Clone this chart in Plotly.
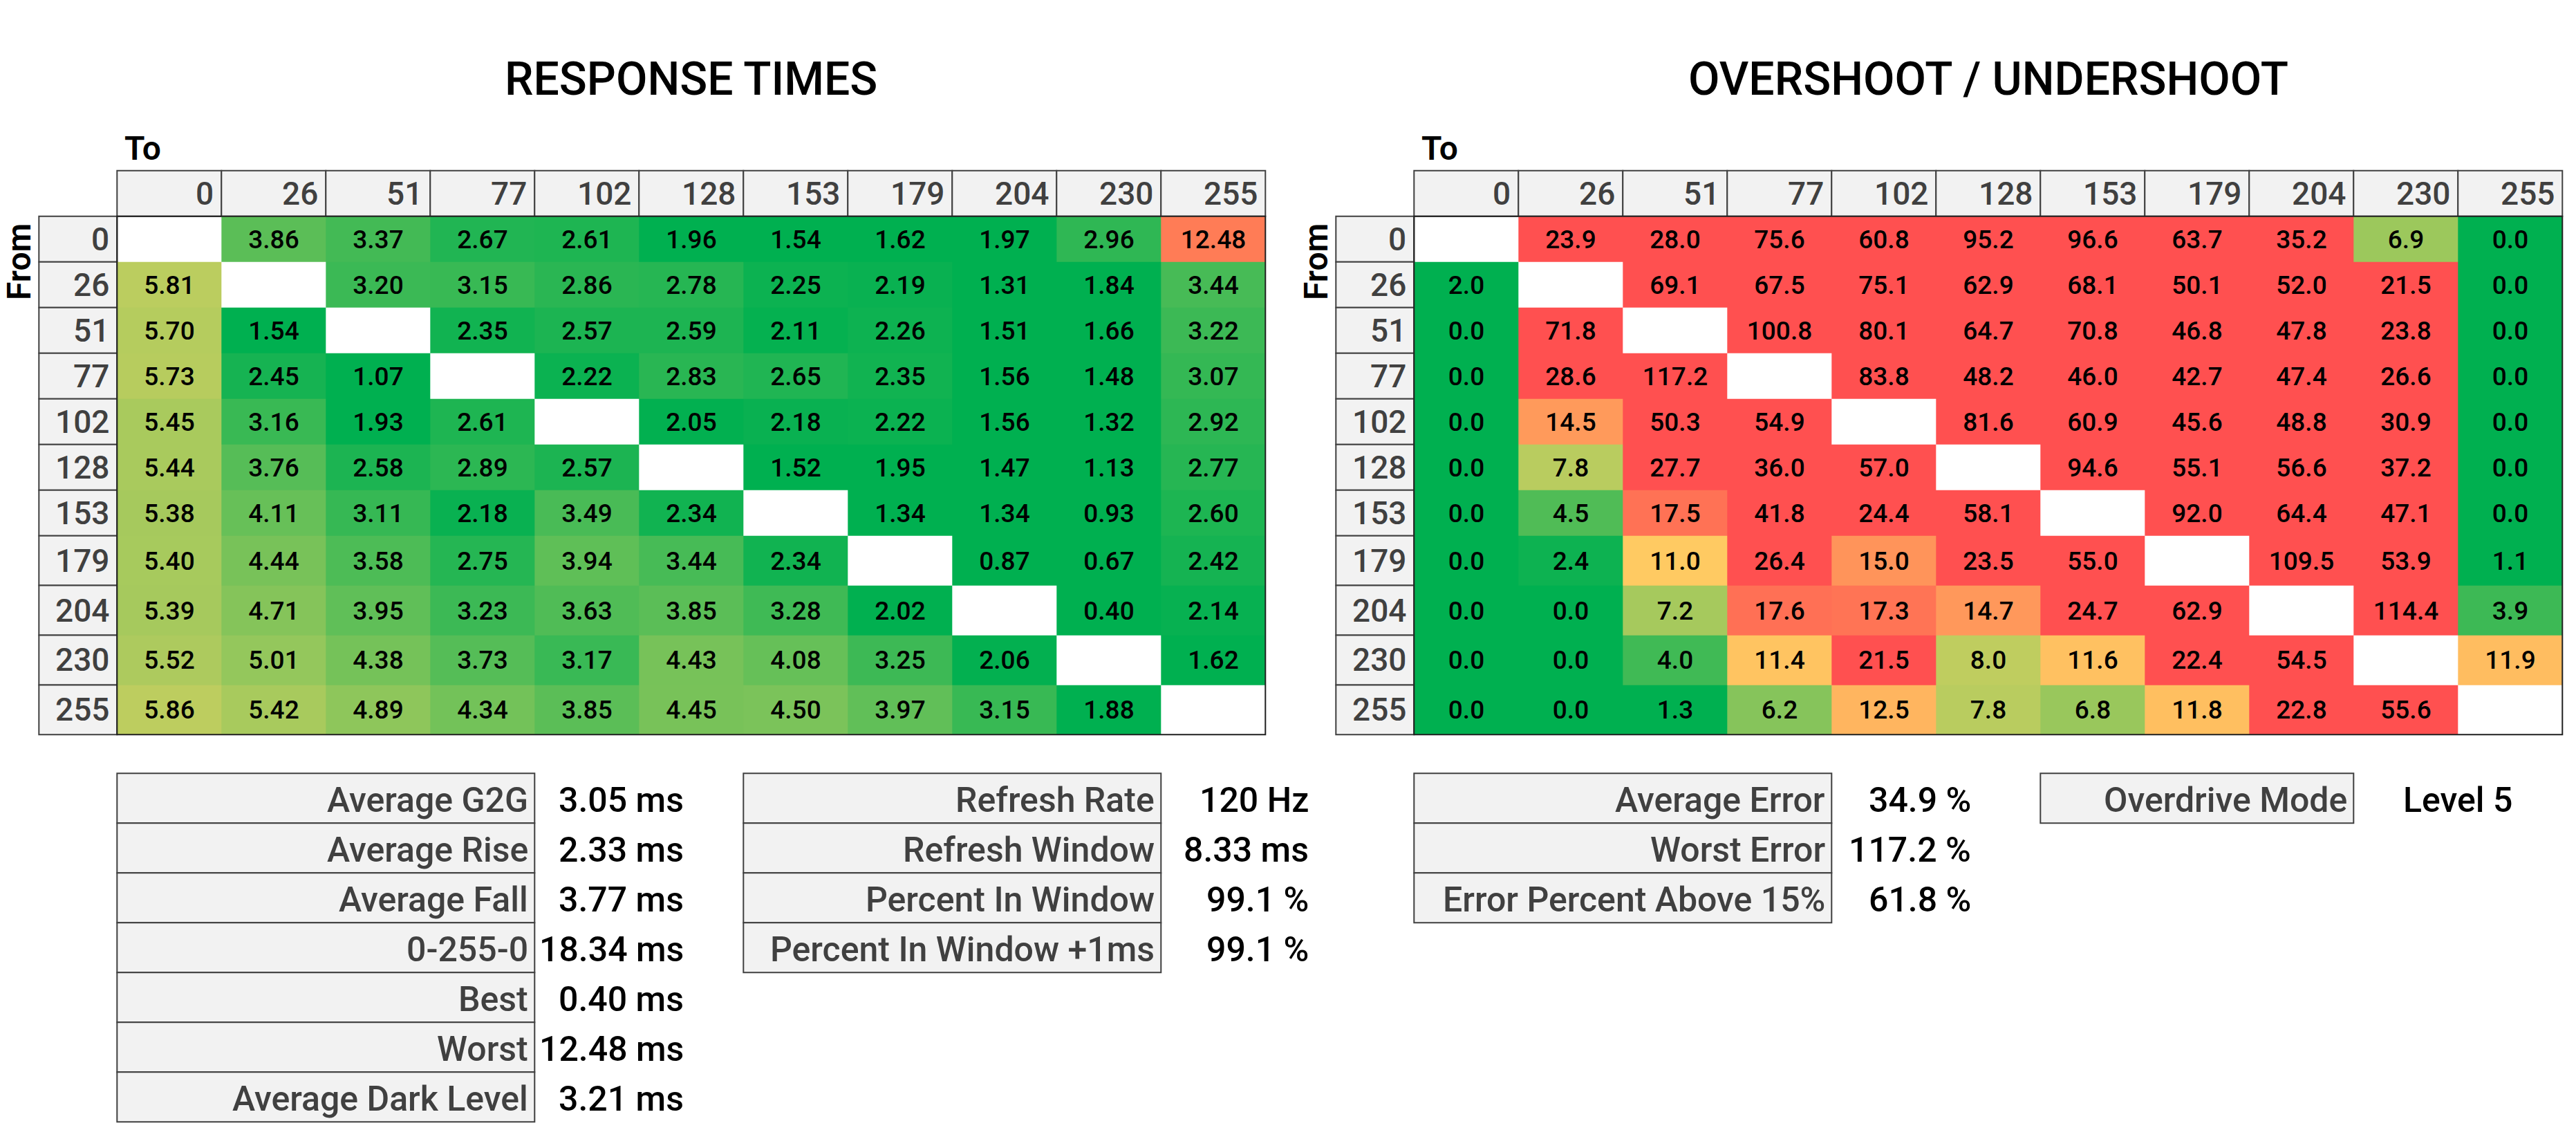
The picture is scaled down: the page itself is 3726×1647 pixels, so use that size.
import plotly.graph_objects as go

# ---------------- data ----------------
LEVELS = ["0", "26", "51", "77", "102", "128", "153", "179", "204", "230", "255"]

RESPONSE = [
    [None, 3.86, 3.37, 2.67, 2.61, 1.96, 1.54, 1.62, 1.97, 2.96, 12.48],
    [5.81, None, 3.20, 3.15, 2.86, 2.78, 2.25, 2.19, 1.31, 1.84, 3.44],
    [5.70, 1.54, None, 2.35, 2.57, 2.59, 2.11, 2.26, 1.51, 1.66, 3.22],
    [5.73, 2.45, 1.07, None, 2.22, 2.83, 2.65, 2.35, 1.56, 1.48, 3.07],
    [5.45, 3.16, 1.93, 2.61, None, 2.05, 2.18, 2.22, 1.56, 1.32, 2.92],
    [5.44, 3.76, 2.58, 2.89, 2.57, None, 1.52, 1.95, 1.47, 1.13, 2.77],
    [5.38, 4.11, 3.11, 2.18, 3.49, 2.34, None, 1.34, 1.34, 0.93, 2.60],
    [5.40, 4.44, 3.58, 2.75, 3.94, 3.44, 2.34, None, 0.87, 0.67, 2.42],
    [5.39, 4.71, 3.95, 3.23, 3.63, 3.85, 3.28, 2.02, None, 0.40, 2.14],
    [5.52, 5.01, 4.38, 3.73, 3.17, 4.43, 4.08, 3.25, 2.06, None, 1.62],
    [5.86, 5.42, 4.89, 4.34, 3.85, 4.45, 4.50, 3.97, 3.15, 1.88, None],
]

OVERSHOOT = [
    [None, 23.9, 28.0, 75.6, 60.8, 95.2, 96.6, 63.7, 35.2, 6.9, 0.0],
    [2.0, None, 69.1, 67.5, 75.1, 62.9, 68.1, 50.1, 52.0, 21.5, 0.0],
    [0.0, 71.8, None, 100.8, 80.1, 64.7, 70.8, 46.8, 47.8, 23.8, 0.0],
    [0.0, 28.6, 117.2, None, 83.8, 48.2, 46.0, 42.7, 47.4, 26.6, 0.0],
    [0.0, 14.5, 50.3, 54.9, None, 81.6, 60.9, 45.6, 48.8, 30.9, 0.0],
    [0.0, 7.8, 27.7, 36.0, 57.0, None, 94.6, 55.1, 56.6, 37.2, 0.0],
    [0.0, 4.5, 17.5, 41.8, 24.4, 58.1, None, 92.0, 64.4, 47.1, 0.0],
    [0.0, 2.4, 11.0, 26.4, 15.0, 23.5, 55.0, None, 109.5, 53.9, 1.1],
    [0.0, 0.0, 7.2, 17.6, 17.3, 14.7, 24.7, 62.9, None, 114.4, 3.9],
    [0.0, 0.0, 4.0, 11.4, 21.5, 8.0, 11.6, 22.4, 54.5, None, 11.9],
    [0.0, 0.0, 1.3, 6.2, 12.5, 7.8, 6.8, 11.8, 22.8, 55.6, None],
]

RT_STAT_LABELS = ["Average G2G", "Average Rise", "Average Fall", "0-255-0",
                  "Best", "Worst", "Average Dark Level"]
RT_STAT_VALUES = ["3.05 ms", "2.33 ms", "3.77 ms", "18.34 ms", "0.40 ms",
                  "12.48 ms", "3.21 ms"]
REFRESH_LABELS = ["Refresh Rate", "Refresh Window", "Percent In Window",
                  "Percent In Window +1ms"]
REFRESH_VALUES = ["120 Hz", "8.33 ms", "99.1 %", "99.1 %"]
OS_STAT_LABELS = ["Average Error", "Worst Error", "Error Percent Above 15%"]
OS_STAT_VALUES = ["34.9 %", "117.2 %", "61.8 %"]
MODE_LABELS = ["Overdrive Mode"]
MODE_VALUES = ["Level 5"]

# ---------------- layout / style ----------------
W, H = 3726, 1647
FONT = "Roboto, 'Open Sans', 'DejaVu Sans', sans-serif"
GREEN, YELLOW, RED = "#00B050", "#FFD764", "#FF5050"
HDR_FILL, LINE = "#F2F2F2", "#404040"
LABEL_COLOR = "#404040"

COL_W = 151
ROWHDR_W = 113
HDR_TOP = 246.7
HDR_H = 66
ROW_H = [66] * 7 + [71.9] * 4
STAT_TOP = 1118.3
STAT_ROW_H = 72
TITLE_Y = 114


def colorscale(lo, mid, hi):
    return [[0, GREEN], [lo / hi, GREEN], [mid / hi, YELLOW], [1, RED]]


PANELS = [
    dict(x0=169.3, title="RESPONSE TIMES", from_x=27,
         z=RESPONSE, fmt="{:.2f}", scale=colorscale(2.0, 7.2, 15.0), zmax=15.0),
    dict(x0=2045.3, title="OVERSHOOT / UNDERSHOOT", from_x=1903,
         z=OVERSHOOT, fmt="{:.1f}", scale=colorscale(2.0, 10.0, 20.0), zmax=20.0),
]

STAT_TABLES = [
    dict(x0=169.3, w=4 * COL_W, labels=RT_STAT_LABELS, values=RT_STAT_VALUES,
         vx=991, vanchor="right"),
    dict(x0=1075.3, w=4 * COL_W, labels=REFRESH_LABELS, values=REFRESH_VALUES,
         vx=1895, vanchor="right"),
    dict(x0=2045.3, w=4 * COL_W, labels=OS_STAT_LABELS, values=OS_STAT_VALUES,
         vx=2853, vanchor="right"),
    dict(x0=2951.3, w=3 * COL_W, labels=MODE_LABELS, values=MODE_VALUES,
         vx=3555, vanchor="center"),
]

fig = go.Figure()
shapes = []
annotations = []

row_edges = [HDR_TOP + HDR_H]
for h in ROW_H:
    row_edges.append(row_edges[-1] + h)
row_centers = [(row_edges[i] + row_edges[i + 1]) / 2 for i in range(len(ROW_H))]

for p in PANELS:
    n = len(LEVELS)
    x_edges = [p["x0"] + i * COL_W for i in range(n + 1)]
    text = [["" if v is None else p["fmt"].format(v) for v in row] for row in p["z"]]
    fig.add_trace(go.Heatmap(
        z=p["z"], x=x_edges, y=row_edges, text=text, texttemplate="%{text}",
        textfont=dict(family=FONT, size=37, color="black", weight=500),
        colorscale=p["scale"], zmin=0, zmax=p["zmax"], showscale=False,
        hoverinfo="skip",
    ))
    # column header cells
    for i, lab in enumerate(LEVELS):
        shapes.append(dict(type="rect", xref="x", yref="y",
                           x0=x_edges[i], x1=x_edges[i + 1],
                           y0=HDR_TOP, y1=HDR_TOP + HDR_H,
                           fillcolor=HDR_FILL, line=dict(color=LINE, width=2),
                           layer="below"))
        annotations.append(dict(x=x_edges[i + 1] - 9, y=HDR_TOP + HDR_H / 2,
                                text=lab, xanchor="right", yanchor="middle",
                                font=dict(family=FONT, size=46, color=LABEL_COLOR, weight=500)))
    # row header cells
    for j, lab in enumerate(LEVELS):
        shapes.append(dict(type="rect", xref="x", yref="y",
                           x0=p["x0"] - ROWHDR_W, x1=p["x0"],
                           y0=row_edges[j], y1=row_edges[j + 1],
                           fillcolor=HDR_FILL, line=dict(color=LINE, width=2),
                           layer="below"))
        annotations.append(dict(x=p["x0"] - 9, y=row_centers[j], text=lab,
                                xanchor="right", yanchor="middle",
                                font=dict(family=FONT, size=46, color=LABEL_COLOR, weight=500)))
    # outline of the data block
    shapes.append(dict(type="rect", xref="x", yref="y",
                       x0=x_edges[0], x1=x_edges[-1],
                       y0=row_edges[0], y1=row_edges[-1],
                       line=dict(color="#202020", width=2)))
    # titles (centred over the data block)
    annotations.append(dict(x=(x_edges[0] + x_edges[-1]) / 2, y=TITLE_Y, text=p["title"],
                            xanchor="center", yanchor="middle",
                            font=dict(family=FONT, size=66, color="black", weight=500)))
    annotations.append(dict(x=p["x0"] + 9, y=214, text="To",
                            xanchor="left", yanchor="middle",
                            font=dict(family=FONT, size=48, color="black", weight=600)))
    annotations.append(dict(x=p["from_x"], y=379, text="From", textangle=-90,
                            xanchor="center", yanchor="middle",
                            font=dict(family=FONT, size=48, color="black", weight=600)))

for t in STAT_TABLES:
    for k, (lab, val) in enumerate(zip(t["labels"], t["values"])):
        y0 = STAT_TOP + k * STAT_ROW_H
        shapes.append(dict(type="rect", xref="x", yref="y",
                           x0=t["x0"], x1=t["x0"] + t["w"], y0=y0, y1=y0 + STAT_ROW_H,
                           fillcolor=HDR_FILL, line=dict(color=LINE, width=2),
                           layer="below"))
        annotations.append(dict(x=t["x0"] + t["w"] - 7, y=y0 + STAT_ROW_H / 2 + 3,
                                text=lab, xanchor="right", yanchor="middle",
                                font=dict(family=FONT, size=50, color=LABEL_COLOR, weight=500)))
        annotations.append(dict(x=t["vx"], y=y0 + STAT_ROW_H / 2 + 3,
                                text=val, xanchor=t["vanchor"], yanchor="middle",
                                font=dict(family=FONT, size=50, color="black", weight=500)))

for a in annotations:
    a.update(xref="x", yref="y", showarrow=False)

fig.update_layout(
    width=W, height=H, margin=dict(l=0, r=0, t=0, b=0),
    paper_bgcolor="white", plot_bgcolor="white",
    xaxis=dict(range=[0, W], visible=False, fixedrange=True),
    yaxis=dict(range=[H, 0], visible=False, fixedrange=True),
    shapes=shapes, annotations=annotations, showlegend=False,
)

fig.write_html("out.html", config={"displayModeBar": False},
               post_script="document.body.style.margin='0px';document.body.style.overflow='hidden';")
